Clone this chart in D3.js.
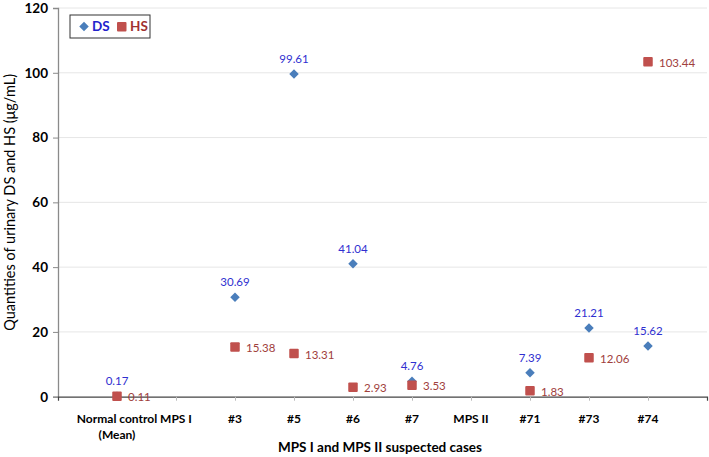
<!DOCTYPE html>
<html>
<head>
<meta charset="utf-8">
<script src="https://cdn.jsdelivr.net/npm/d3@7"></script>
<style>
body { margin: 0; background: #fff; }
svg { display: block; font-family: Lato, "Open Sans", sans-serif; }
</style>
</head>
<body>
<svg id="chart" width="709" height="457"></svg>
<script>
const categories = ["Normal control|(Mean)", "MPS I", "#3", "#5", "#6", "#7", "MPS II", "#71", "#73", "#74"];
const dsValues = [0.17, null, 30.69, 99.61, 41.04, 4.76, null, 7.39, 21.21, 15.62];
const hsValues = [0.11, null, 15.38, 13.31, 2.93, 3.53, null, 1.83, 12.06, 103.44];
const yTicks = [0, 20, 40, 60, 80, 100, 120];

const svg = d3.select("#chart");
const mLeft = 58, mRight = 707, mTop = 8, mBottom = 396.7;

const x = d3.scaleLinear().domain([0, categories.length + 1]).range([mLeft, mRight]);
const y = d3.scaleLinear().domain([0, 120]).range([mBottom, mTop]);

// gridlines
svg.append("g").selectAll("line").data(yTicks.filter(d => d > 0)).join("line")
  .attr("x1", mLeft).attr("x2", mRight)
  .attr("y1", d => y(d)).attr("y2", d => y(d))
  .attr("stroke", "#e6e6e6").attr("stroke-width", 1);

// y axis
const yAxis = svg.append("g").attr("transform", `translate(${mLeft},0)`)
  .call(d3.axisLeft(y).tickValues(yTicks).tickSize(5).tickPadding(5));
yAxis.select(".domain").attr("stroke", "#8a8a8a").attr("stroke-width", 1.3);
yAxis.selectAll(".tick line").attr("stroke", "#8a8a8a");
yAxis.selectAll(".tick text").attr("font-size", 13.5).attr("font-weight", "bold").attr("fill", "#000")
  .attr("font-family", "Lato, sans-serif");

// x axis
const xAxis = svg.append("g").attr("transform", `translate(0,${mBottom})`)
  .call(d3.axisBottom(x).tickValues(d3.range(1, categories.length + 1)).tickSize(4).tickFormat(""));
xAxis.select(".domain").attr("stroke", "#444").attr("stroke-width", 1.2);
xAxis.selectAll(".tick line").attr("stroke", "#bbb");

// x labels
const xl = svg.append("g");
categories.forEach((c, i) => {
  const lines = c.split("|");
  const t = xl.append("text").attr("x", x(i + 1)).attr("y", 423)
    .attr("text-anchor", "middle").attr("font-size", 12).attr("font-weight", "bold").attr("fill", "#000");
  lines.forEach((ln, j) => {
    t.append("tspan").attr("x", x(i + 1)).attr("dy", j === 0 ? 0 : 16).text(ln);
  });
});

// axis titles
svg.append("text").attr("x", 380).attr("y", 452).attr("text-anchor", "middle")
  .attr("font-size", 13.5).attr("font-weight", "bold").text("MPS I and MPS II suspected cases");
svg.append("text").attr("transform", `translate(10,${(mTop + mBottom) / 2}) rotate(-90)`)
  .attr("text-anchor", "middle").attr("dy", "0.35em")
  .attr("font-size", 14.5).text("Quantities of urinary DS and HS (μg/mL)");

const dsPts = dsValues.map((v, i) => ({ v, i })).filter(d => d.v !== null);
const hsPts = hsValues.map((v, i) => ({ v, i })).filter(d => d.v !== null);

const diamond = d3.symbol().type(d3.symbolDiamond2).size(58);

// DS markers
svg.append("g").selectAll("path").data(dsPts).join("path")
  .attr("d", diamond)
  .attr("transform", d => `translate(${x(d.i + 1)},${y(d.v)})`)
  .attr("fill", "#4a7ebb");
// DS labels
svg.append("g").selectAll("text").data(dsPts).join("text")
  .attr("x", d => x(d.i + 1)).attr("y", d => y(d.v) - 15)
  .attr("dy", "0.35em").attr("text-anchor", "middle")
  .attr("font-size", 11.5).attr("fill", "#2f2fd0").text(d => d.v.toFixed(2));

// HS markers
svg.append("g").selectAll("rect").data(hsPts).join("rect")
  .attr("x", d => x(d.i + 1) - 4.75).attr("y", d => y(d.v) - 4.75)
  .attr("width", 9.5).attr("height", 9.5).attr("rx", 1)
  .attr("fill", "#c0504d");
// HS labels
svg.append("g").selectAll("text").data(hsPts).join("text")
  .attr("x", d => x(d.i + 1) + 11).attr("y", d => y(d.v) + 1)
  .attr("dy", "0.35em").attr("text-anchor", "start")
  .attr("font-size", 11.5).attr("fill", "#a0403c").text(d => d.v.toFixed(2));

// legend
const lg = svg.append("g");
lg.append("rect").attr("x", 70).attr("y", 15).attr("width", 80).attr("height", 23)
  .attr("fill", "#fff").attr("stroke", "#333").attr("stroke-width", 1);
lg.append("path").attr("d", diamond).attr("transform", "translate(84,26.5)").attr("fill", "#4a7ebb");
lg.append("text").attr("x", 92).attr("y", 26.5).attr("dy", "0.35em").attr("font-size", 13.5)
  .attr("font-weight", "bold").attr("fill", "#2222cc").text("DS");
lg.append("rect").attr("x", 117).attr("y", 22).attr("width", 9.5).attr("height", 9.5).attr("rx", 1).attr("fill", "#c0504d");
lg.append("text").attr("x", 130).attr("y", 26.5).attr("dy", "0.35em").attr("font-size", 13.5)
  .attr("font-weight", "bold").attr("fill", "#a03030").text("HS");
</script>
</body>
</html>
